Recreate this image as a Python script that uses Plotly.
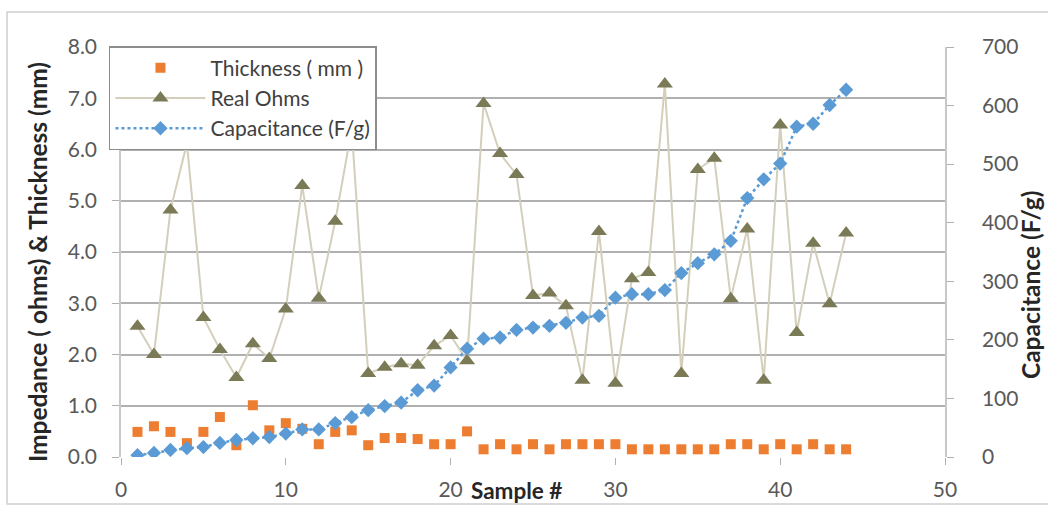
import plotly.graph_objects as go

samples = list(range(1, 45))

thickness_mm = [0.49, 0.60, 0.49, 0.27, 0.49, 0.78, 0.23, 1.01, 0.52, 0.66,
                0.55, 0.25, 0.49, 0.52, 0.23, 0.37, 0.37, 0.35, 0.25, 0.25,
                0.50, 0.15, 0.25, 0.15, 0.25, 0.15, 0.25, 0.25, 0.25, 0.25,
                0.15, 0.15, 0.15, 0.15, 0.15, 0.15, 0.25, 0.25, 0.15, 0.25,
                0.15, 0.25, 0.15, 0.15]

real_ohms = [2.55, 2.00, 4.82, 6.12, 2.72, 2.10, 1.55, 2.21, 1.92, 2.89,
             5.30, 3.10, 4.60, 6.40, 1.63, 1.75, 1.82, 1.79, 2.17, 2.37,
             1.88, 6.90, 5.92, 5.51, 3.15, 3.20, 2.95, 1.50, 4.40, 1.44,
             3.48, 3.60, 7.28, 1.63, 5.61, 5.83, 3.09, 4.45, 1.50, 6.48,
             2.43, 4.17, 2.99, 4.37]

capacitance = [3, 7, 12, 15, 17, 24, 29, 32, 34, 40,
               47, 47, 58, 68, 80, 87, 93, 114, 122, 153,
               185, 202, 204, 217, 221, 224, 229, 238, 241, 272,
               278, 278, 285, 314, 331, 346, 369, 442, 474, 501,
               564, 569, 601, 627]

x_ticks = [0, 10, 20, 30, 40, 50]
left_ticks = [0, 1, 2, 3, 4, 5, 6, 7, 8]
left_tick_text = ["0.0", "1.0", "2.0", "3.0", "4.0", "5.0", "6.0", "7.0", "8.0"]
right_ticks = [0, 100, 200, 300, 400, 500, 600, 700]

FONT = "Lato"
TICK_COLOR = "#595959"
TITLE_COLOR = "#262626"
GRID = "#b0b0b0"

fig = go.Figure()

fig.add_trace(go.Scatter(
    x=samples, y=thickness_mm, name="Thickness ( mm )", mode="markers",
    marker=dict(symbol="square", size=10, color="#ed7d31"),
    yaxis="y"))

fig.add_trace(go.Scatter(
    x=samples, y=real_ohms, name="Real Ohms", mode="lines+markers",
    line=dict(color="#d3cfbb", width=2),
    marker=dict(symbol="triangle-up", size=14, color="#7b7a57"),
    yaxis="y"))

fig.add_trace(go.Scatter(
    x=samples, y=capacitance, name="Capacitance (F/g)", mode="lines+markers",
    line=dict(color="#5b9bd5", width=2.5, dash="dot"),
    marker=dict(symbol="diamond", size=11, color="#5b9bd5"),
    yaxis="y2"))

fig.update_layout(
    width=1048, height=513,
    margin=dict(l=121, r=103, t=47, b=56),
    paper_bgcolor="white", plot_bgcolor="white",
    font=dict(family=FONT, size=21, color=TICK_COLOR),
    showlegend=True,
    legend=dict(
        x=-0.0146, y=1.0024, xanchor="left", yanchor="top",
        bgcolor="white", bordercolor="#8c8c8c", borderwidth=1.5,
        font=dict(family=FONT, size=21, color="#404040"),
        itemwidth=90, tracegroupgap=0,
    ),
    xaxis=dict(
        range=[0, 50], tickvals=x_ticks, showgrid=False, zeroline=False,
        showline=False, ticks="outside", ticklen=7, tickcolor=GRID,
        tickfont=dict(family=FONT, size=21, color=TICK_COLOR),
        ticklabelstandoff=7,
    ),
    yaxis=dict(
        range=[0, 8], tickvals=left_ticks, ticktext=left_tick_text,
        showgrid=True, gridcolor=GRID, gridwidth=1.5, zeroline=False,
        showline=True, linecolor="#c8c8c8", linewidth=1.5,
        ticks="outside", ticklen=7, tickcolor=GRID,
        tickfont=dict(family=FONT, size=21, color=TICK_COLOR),
        ticklabelstandoff=11,
    ),
    yaxis2=dict(
        range=[0, 700], tickvals=right_ticks, overlaying="y", side="right",
        showgrid=False, zeroline=False,
        showline=True, linecolor="#c8c8c8", linewidth=1.5,
        ticks="outside", ticklen=7, tickcolor=GRID,
        tickfont=dict(family=FONT, size=21, color=TICK_COLOR),
        ticklabelstandoff=24,
    ),
    shapes=[
        dict(type="rect", xref="paper", yref="paper",
             x0=-0.1383, x1=1.15, y0=-0.1146, y1=1.0854,
             line=dict(color="#d0d0d0", width=1.5), fillcolor="rgba(0,0,0,0)",
             layer="below"),
    ],
    annotations=[
        dict(text="<b>Impedance ( ohms) &amp; Thickness (mm)</b>", textangle=-90,
             xref="paper", yref="paper", x=-0.1019, y=0.4756,
             xanchor="center", yanchor="middle", showarrow=False,
             font=dict(family=FONT, size=24.5, color=TITLE_COLOR)),
        dict(text="<b>Capacitance (F/g)</b>", textangle=-90,
             xref="paper", yref="paper", x=1.1032, y=0.4195,
             xanchor="center", yanchor="middle", showarrow=False,
             font=dict(family=FONT, size=24.5, color=TITLE_COLOR)),
        dict(text="<b>Sample #</b>",
             xref="paper", yref="paper", x=0.4794, y=-0.0805,
             xanchor="center", yanchor="middle", showarrow=False,
             font=dict(family=FONT, size=22.5, color=TITLE_COLOR)),
    ],
)

fig.write_html("out.html")
